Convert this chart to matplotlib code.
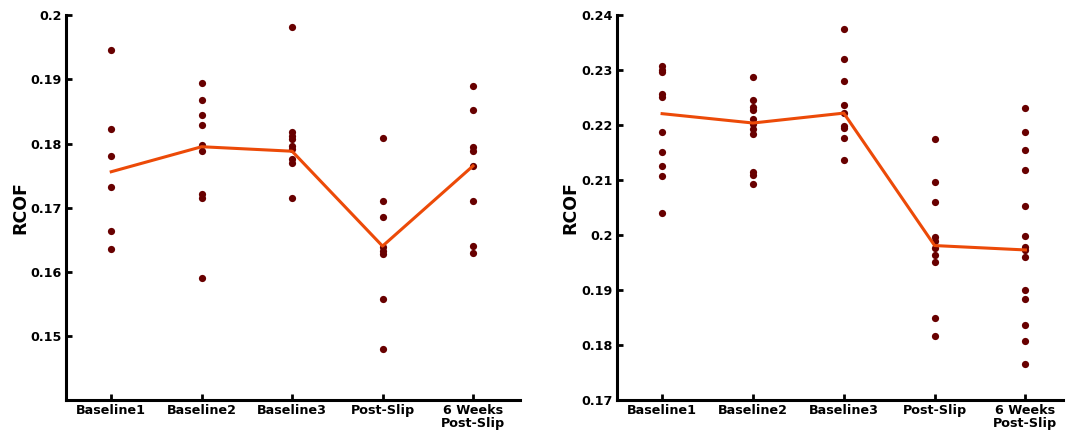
import matplotlib
matplotlib.use('Agg')
import matplotlib.pyplot as plt

# categories
groups = ['Baseline1', 'Baseline2', 'Baseline3', 'Post-Slip', '6 Weeks\nPost-Slip']

# left panel - individual RCOF values per session
left_b1 = [0.1946, 0.1823, 0.1781, 0.1732, 0.1664, 0.1635]
left_b2 = [0.1895, 0.1868, 0.1845, 0.1829, 0.1797, 0.1788, 0.1721, 0.1715, 0.1591]
left_b3 = [0.1981, 0.1818, 0.1812, 0.1807, 0.1796, 0.1792, 0.1776, 0.1769, 0.1715]
left_ps = [0.1808, 0.1710, 0.1685, 0.1639, 0.1633, 0.1627, 0.1558, 0.1480]
left_6w = [0.1889, 0.1852, 0.1794, 0.1789, 0.1765, 0.1710, 0.1640, 0.1629]
left_mean = [0.1756, 0.1795, 0.1788, 0.1640, 0.1765]

# right panel
right_b1 = [0.2307, 0.2301, 0.2296, 0.2256, 0.2251, 0.2187, 0.2151, 0.2126, 0.2107, 0.2040]
right_b2 = [0.2287, 0.2245, 0.2233, 0.2227, 0.2211, 0.2202, 0.2193, 0.2184, 0.2115, 0.2110, 0.2093]
right_b3 = [0.2375, 0.2320, 0.2281, 0.2236, 0.2222, 0.2199, 0.2195, 0.2176, 0.2136]
right_ps = [0.2175, 0.2096, 0.2061, 0.1996, 0.1990, 0.1976, 0.1964, 0.1951, 0.1849, 0.1816]
right_6w = [0.2232, 0.2187, 0.2155, 0.2118, 0.2053, 0.1999, 0.1979, 0.1973, 0.1961,
            0.1901, 0.1884, 0.1837, 0.1808, 0.1765]
right_mean = [0.2221, 0.2204, 0.2222, 0.1981, 0.1973]

left_ticks = [0.15, 0.16, 0.17, 0.18, 0.19, 0.2]
right_ticks = [0.17, 0.18, 0.19, 0.2, 0.21, 0.22, 0.23, 0.24]

dot_color = '#680000'
line_color = '#ec4a08'
font = 'DejaVu Sans'

fig = plt.figure(figsize=(10.77, 4.37), dpi=100)
ax1 = fig.add_axes([0.0613, 0.0847, 0.4215, 0.8803])
ax2 = fig.add_axes([0.5726, 0.0847, 0.4141, 0.8803])


def draw(ax, sets, means, ticks, ylim, xmax):
    for i, vals in enumerate(sets):
        ax.plot([i + 1] * len(vals), vals, 'o', color=dot_color,
                markersize=5.2, markeredgewidth=0, zorder=2)
    ax.plot(range(1, len(means) + 1), means, '-', color=line_color,
            linewidth=2.2, zorder=3)
    ax.set_xlim(0.5, xmax)
    ax.set_ylim(*ylim)
    ax.set_xticks(range(1, len(groups) + 1))
    ax.set_xticklabels(groups, fontsize=9.2, fontweight='bold', family=font,
                       linespacing=0.95)
    ax.set_yticks(ticks)
    ax.set_yticklabels(['%g' % t for t in ticks], fontsize=9.2,
                       fontweight='bold', family=font)
    ax.tick_params(direction='in', length=4, width=2, pad=3)
    for s in ['top', 'right']:
        ax.spines[s].set_visible(False)
    for s in ['left', 'bottom']:
        ax.spines[s].set_linewidth(2.2)
    ax.set_ylabel('RCOF', fontsize=12.5, fontweight='bold', family=font,
                  labelpad=1)


draw(ax1, [left_b1, left_b2, left_b3, left_ps, left_6w], left_mean,
     left_ticks, (0.14, 0.2), 5.52)
draw(ax2, [right_b1, right_b2, right_b3, right_ps, right_6w], right_mean,
     right_ticks, (0.17, 0.24), 5.41)

fig.savefig('out.png', dpi=100)
